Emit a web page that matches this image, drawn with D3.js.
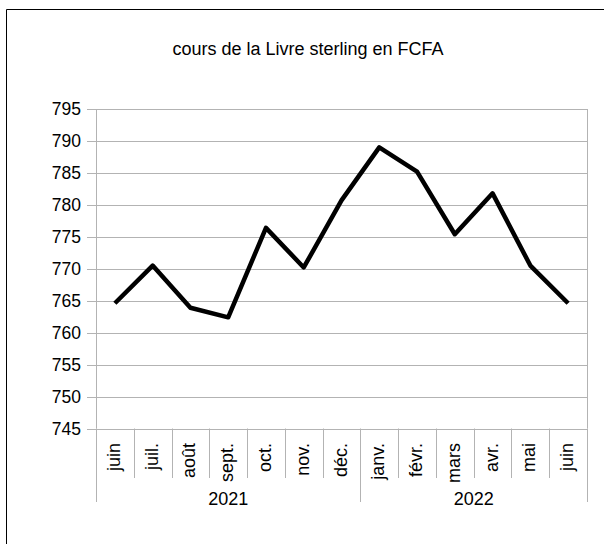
<!DOCTYPE html>
<html><head><meta charset="utf-8">
<script src="https://cdn.jsdelivr.net/npm/d3@7"></script>
<style>body{margin:0;background:#fff}svg{display:block}text{font-family:"Liberation Sans",Arial,sans-serif;fill:#000}</style>
</head><body>
<script>
const months = ["juin","juil.","août","sept.","oct.","nov.","déc.","janv.","févr.","mars","avr.","mai","juin"];
const years = ["2021","2022"];
const yearOfMonth = [0,0,0,0,0,0,0,1,1,1,1,1,1];
const values = [764.6,770.5,763.9,762.4,776.4,770.2,780.7,789.0,785.2,775.4,781.8,770.5,764.6];
const yTicks = [745,750,755,760,765,770,775,780,785,790,795];
const title = "cours de la Livre sterling en FCFA";

const W=604,H=544;
const svg=d3.select("body").append("svg").attr("width",W).attr("height",H);
const L=96,R=587,T=109,B=428.5;
const x=d3.scaleBand().domain(d3.range(months.length)).range([L,R]);
const y=d3.scaleLinear().domain([745,795]).range([B,T]);
const grid="#b3b3b3";

// frame
svg.append("path").attr("d",`M6.5,${H} V9.5 H${W}`).attr("fill","none").attr("stroke","#000").attr("stroke-width",1);

svg.append("text").attr("x",308).attr("y",55).attr("text-anchor","middle").attr("font-size",18).text(title);

// gridlines
svg.append("g").selectAll("line").data(yTicks).join("line")
 .attr("x1",L).attr("x2",R).attr("y1",d=>Math.round(y(d))+0.5).attr("y2",d=>Math.round(y(d))+0.5)
 .attr("stroke",grid).attr("stroke-width",1);
// y axis
const ya=svg.append("g").attr("transform",`translate(${L},0)`).call(d3.axisLeft(y).tickValues(yTicks).tickSize(9).tickPadding(6).tickFormat(d3.format("d")));
ya.select(".domain").remove();
ya.selectAll("line").attr("stroke",grid);
ya.selectAll("text").attr("font-size",17.5).attr("font-family","Liberation Sans, Arial, sans-serif").attr("fill","#000");
ya.selectAll(".tick").attr("transform",d=>`translate(0,${Math.round(y(d))+0.5})`);
svg.append("line").attr("x1",L+0.5).attr("x2",L+0.5).attr("y1",T).attr("y2",B).attr("stroke",grid);
// right border
svg.append("line").attr("x1",R+0.5).attr("x2",R+0.5).attr("y1",T).attr("y2",B).attr("stroke",grid);

// x category separators
const seps=d3.range(months.length+1);
svg.append("g").selectAll("line").data(seps).join("line")
 .attr("x1",i=>Math.round(i<months.length?x(i):R)+0.5).attr("x2",i=>Math.round(i<months.length?x(i):R)+0.5)
 .attr("y1",B).attr("y2",i=>(i===0||i===months.length||yearOfMonth[i]!==yearOfMonth[i-1])?502:478)
 .attr("stroke",grid);
// month labels
svg.append("g").selectAll("text").data(months).join("text")
 .attr("transform",(d,i)=>`translate(${x(i)+x.bandwidth()/2+5},443) rotate(-90)`)
 .attr("text-anchor","end").attr("font-size",18).text(d=>d);
// year labels
svg.append("g").selectAll("text").data(years).join("text")
 .attr("x",(d,k)=>{const idx=d3.range(months.length).filter(i=>yearOfMonth[i]===k);return (x(idx[0])+x(idx[idx.length-1])+x.bandwidth())/2;})
 .attr("y",505).attr("text-anchor","middle").attr("font-size",18).text(d=>d);

// line
svg.append("path").datum(values).attr("fill","none").attr("stroke","#000").attr("stroke-width",4.5).attr("stroke-linejoin","round")
 .attr("d",d3.line().x((d,i)=>x(i)+x.bandwidth()/2).y(d=>y(d)));
</script>
</body></html>
